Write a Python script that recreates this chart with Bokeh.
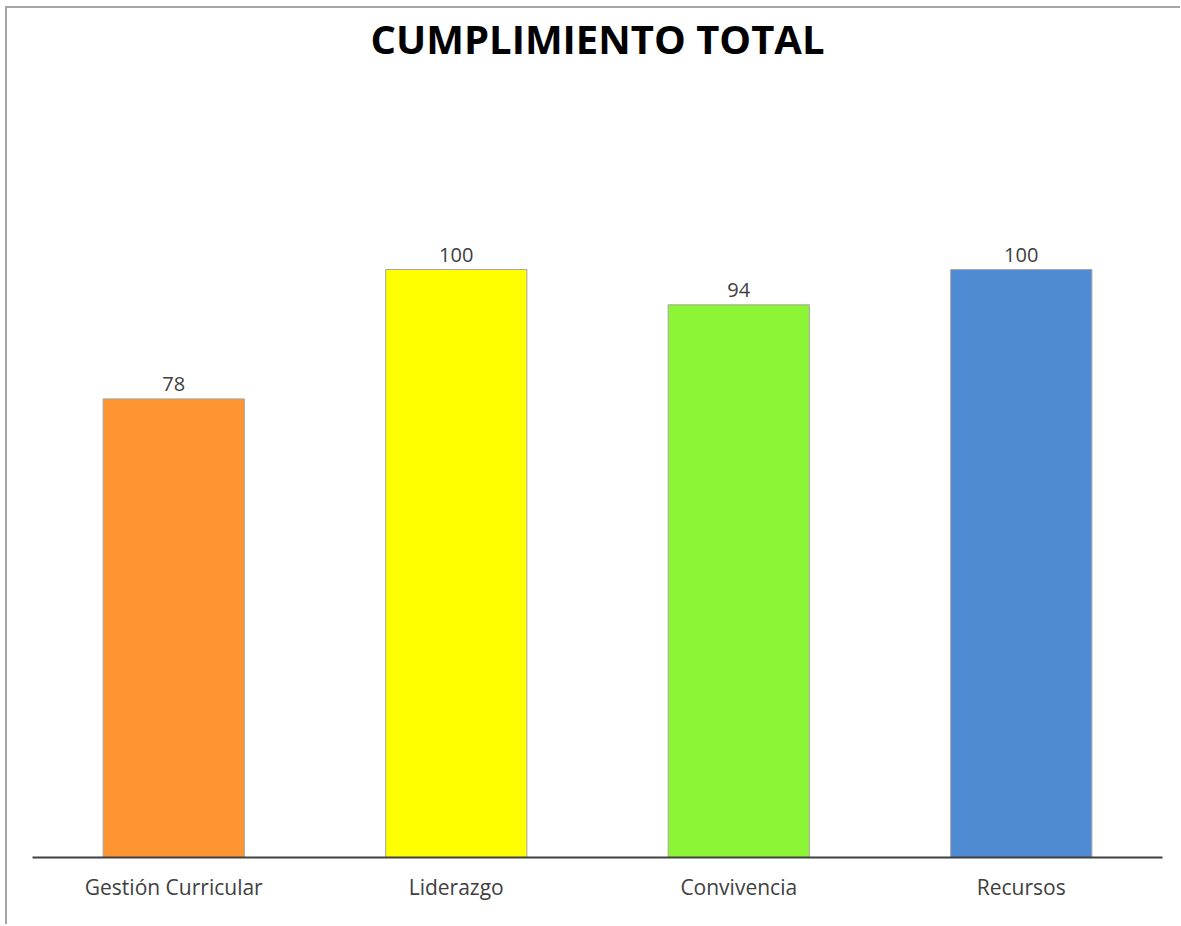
from bokeh.plotting import figure
from bokeh.models import ColumnDataSource, LabelSet, Range1d, FactorRange
from bokeh.core.properties import value
from bokeh.embed import file_html
from bokeh.resources import INLINE

categories = ["Gestión Curricular", "Liderazgo", "Convivencia", "Recursos"]
values = [78, 100, 94, 100]
colors = ["#FD9533", "#FFFF00", "#8CF536", "#4F8BD3"]
labels = [str(v) for v in values]

source = ColumnDataSource(dict(cat=categories, val=values, color=colors, lab=labels))

p = figure(
    x_range=FactorRange(*categories, range_padding=0),
    y_range=Range1d(0, 134.7),
    width=1175, height=918,
    output_backend="svg", toolbar_location=None,
    title="CUMPLIMIENTO TOTAL",
    min_border_left=25, min_border_right=20, min_border_bottom=69, min_border_top=0,
)
p.styles = {"border-left": "2px solid #a6a6a6", "border-top": "2px solid #a6a6a6",
            "margin-left": "5px", "margin-top": "6px"}

p.title.align = "center"
p.title.text_font = "Open Sans"
p.title.text_font_style = "bold"
p.title.text_font_size = "40px"
p.title.text_color = "#000000"
p.title.standoff = 0
p.title.offset = 0

p.vbar(x="cat", top="val", width=0.5, source=source, fill_color="color",
       line_color="#a6a6a6", line_width=1)

labs = LabelSet(x="cat", y="val", text="lab", source=source, text_align="center",
                text_baseline="bottom", y_offset=8, text_font=value("Open Sans"),
                text_font_size=value("20px"), text_color="#404040")
p.add_layout(labs)

p.yaxis.visible = False
p.xgrid.grid_line_color = None
p.ygrid.grid_line_color = None
p.outline_line_color = None

xa = p.xaxis[0]
xa.axis_line_color = "#404040"
xa.axis_line_width = 2
xa.major_tick_line_color = None
xa.minor_tick_line_color = None
xa.major_tick_out = 0
xa.major_tick_in = 0
xa.major_label_standoff = 15
xa.major_label_text_font = "Open Sans"
xa.major_label_text_font_size = "21px"
xa.major_label_text_color = "#404040"

open("out.html", "w").write(file_html(p, INLINE))
